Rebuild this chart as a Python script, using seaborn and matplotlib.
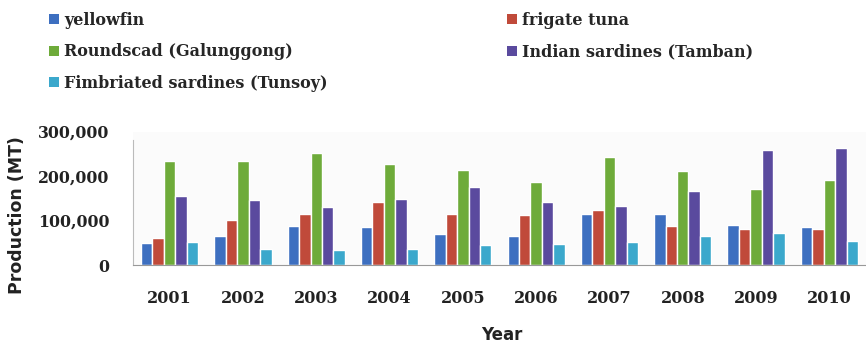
import pandas as pd
import seaborn as sns
import matplotlib.pyplot as plt
from matplotlib.patches import Patch

years = ['2001', '2002', '2003', '2004', '2005', '2006', '2007', '2008', '2009', '2010']
species = ['yellowfin', 'frigate tuna', 'Roundscad (Galunggong)',
           'Indian sardines (Tamban)', 'Fimbriated sardines (Tunsoy)']

yellowfin = [49000, 65000, 88000, 86000, 70000, 65000, 115000, 115000, 89000, 85000]
frigate_tuna = [61000, 101000, 115000, 141000, 115000, 112000, 124000, 88000, 80000, 80000]
roundscad = [234000, 234000, 252000, 228000, 213000, 187000, 243000, 211000, 170000, 192000]
indian_sardines = [154000, 146000, 130000, 148000, 175000, 142000, 133000, 166000, 258000, 264000]
fimbriated = [51000, 36000, 34000, 37000, 46000, 47000, 51000, 65000, 73000, 54000]

colors = ['#3d6fc0', '#c04a3a', '#6eab3a', '#5a4a9e', '#3ba8cc']

series = [yellowfin, frigate_tuna, roundscad, indian_sardines, fimbriated]
df = pd.DataFrame({
    'Year': years * len(species),
    'Species': [s for s in species for _ in years],
    'Production': [v for vals in series for v in vals],
})

sns.set_style('white')
W, H = 866, 346
fig = plt.figure(figsize=(W / 100, H / 100), dpi=100)
ax = fig.add_axes([133 / W, 81 / H, 733 / W, 133.5 / H])
ax.set_facecolor('#fbfbfb')

sns.barplot(data=df, x='Year', y='Production', hue='Species', hue_order=species,
            palette=colors, width=0.78, gap=0, saturation=1, legend=False, ax=ax)

ax.set_xlim(-0.5, 9.37)
ax.set_ylim(0, 300000)
ax.set_yticks([0, 100000, 200000, 300000])
ax.set_yticklabels(['0', '100,000', '200,000', '300,000'])
ax.set_xlabel('')
ax.set_ylabel('')

for side in ['top', 'right']:
    ax.spines[side].set_visible(False)
ax.spines['left'].set_color('#bbbbbb')
ax.spines['bottom'].set_color('#999999')
ax.spines['left'].set_bounds(0, 280000)

ax.tick_params(axis='x', length=0, pad=18)
ax.set_xticks([i + 0.5 for i in range(len(years))], minor=True)
ax.tick_params(axis='x', which='minor', length=4, color='#999999', direction='out')
ax.tick_params(axis='y', length=3, color='#bbbbbb', pad=14)

tick_font = {'family': 'DejaVu Serif', 'weight': 'bold', 'color': '#222222'}
for lab in ax.get_xticklabels():
    lab.set(fontsize=11.5, **tick_font)
for lab in ax.get_yticklabels():
    lab.set(fontsize=11.3, **tick_font)

fig.text(17 / W, (H - 215) / H, 'Production (MT)', rotation=90,
         ha='center', va='center', fontsize=12.5, fontweight='bold', color='#222222')
fig.text(502 / W, (H - 335) / H, 'Year', ha='center', va='center',
         fontsize=12, fontweight='bold', color='#222222')

leg_prop = {'family': 'DejaVu Serif', 'weight': 'bold', 'size': 11.5}
leg_kw = dict(loc='upper left', frameon=False, borderpad=0, handlelength=0.6,
              handleheight=0.6, handletextpad=0.35, labelspacing=0.9, prop=leg_prop)
col1 = [0, 2, 4]
col2 = [1, 3]
fig.legend([Patch(facecolor=colors[i], edgecolor='none') for i in col1],
           [species[i] for i in col1], bbox_to_anchor=(41 / W, 1 - 4 / H), **leg_kw)
fig.legend([Patch(facecolor=colors[i], edgecolor='none') for i in col2],
           [species[i] for i in col2], bbox_to_anchor=(499 / W, 1 - 4 / H), **leg_kw)

fig.savefig('out.png', dpi=100)
